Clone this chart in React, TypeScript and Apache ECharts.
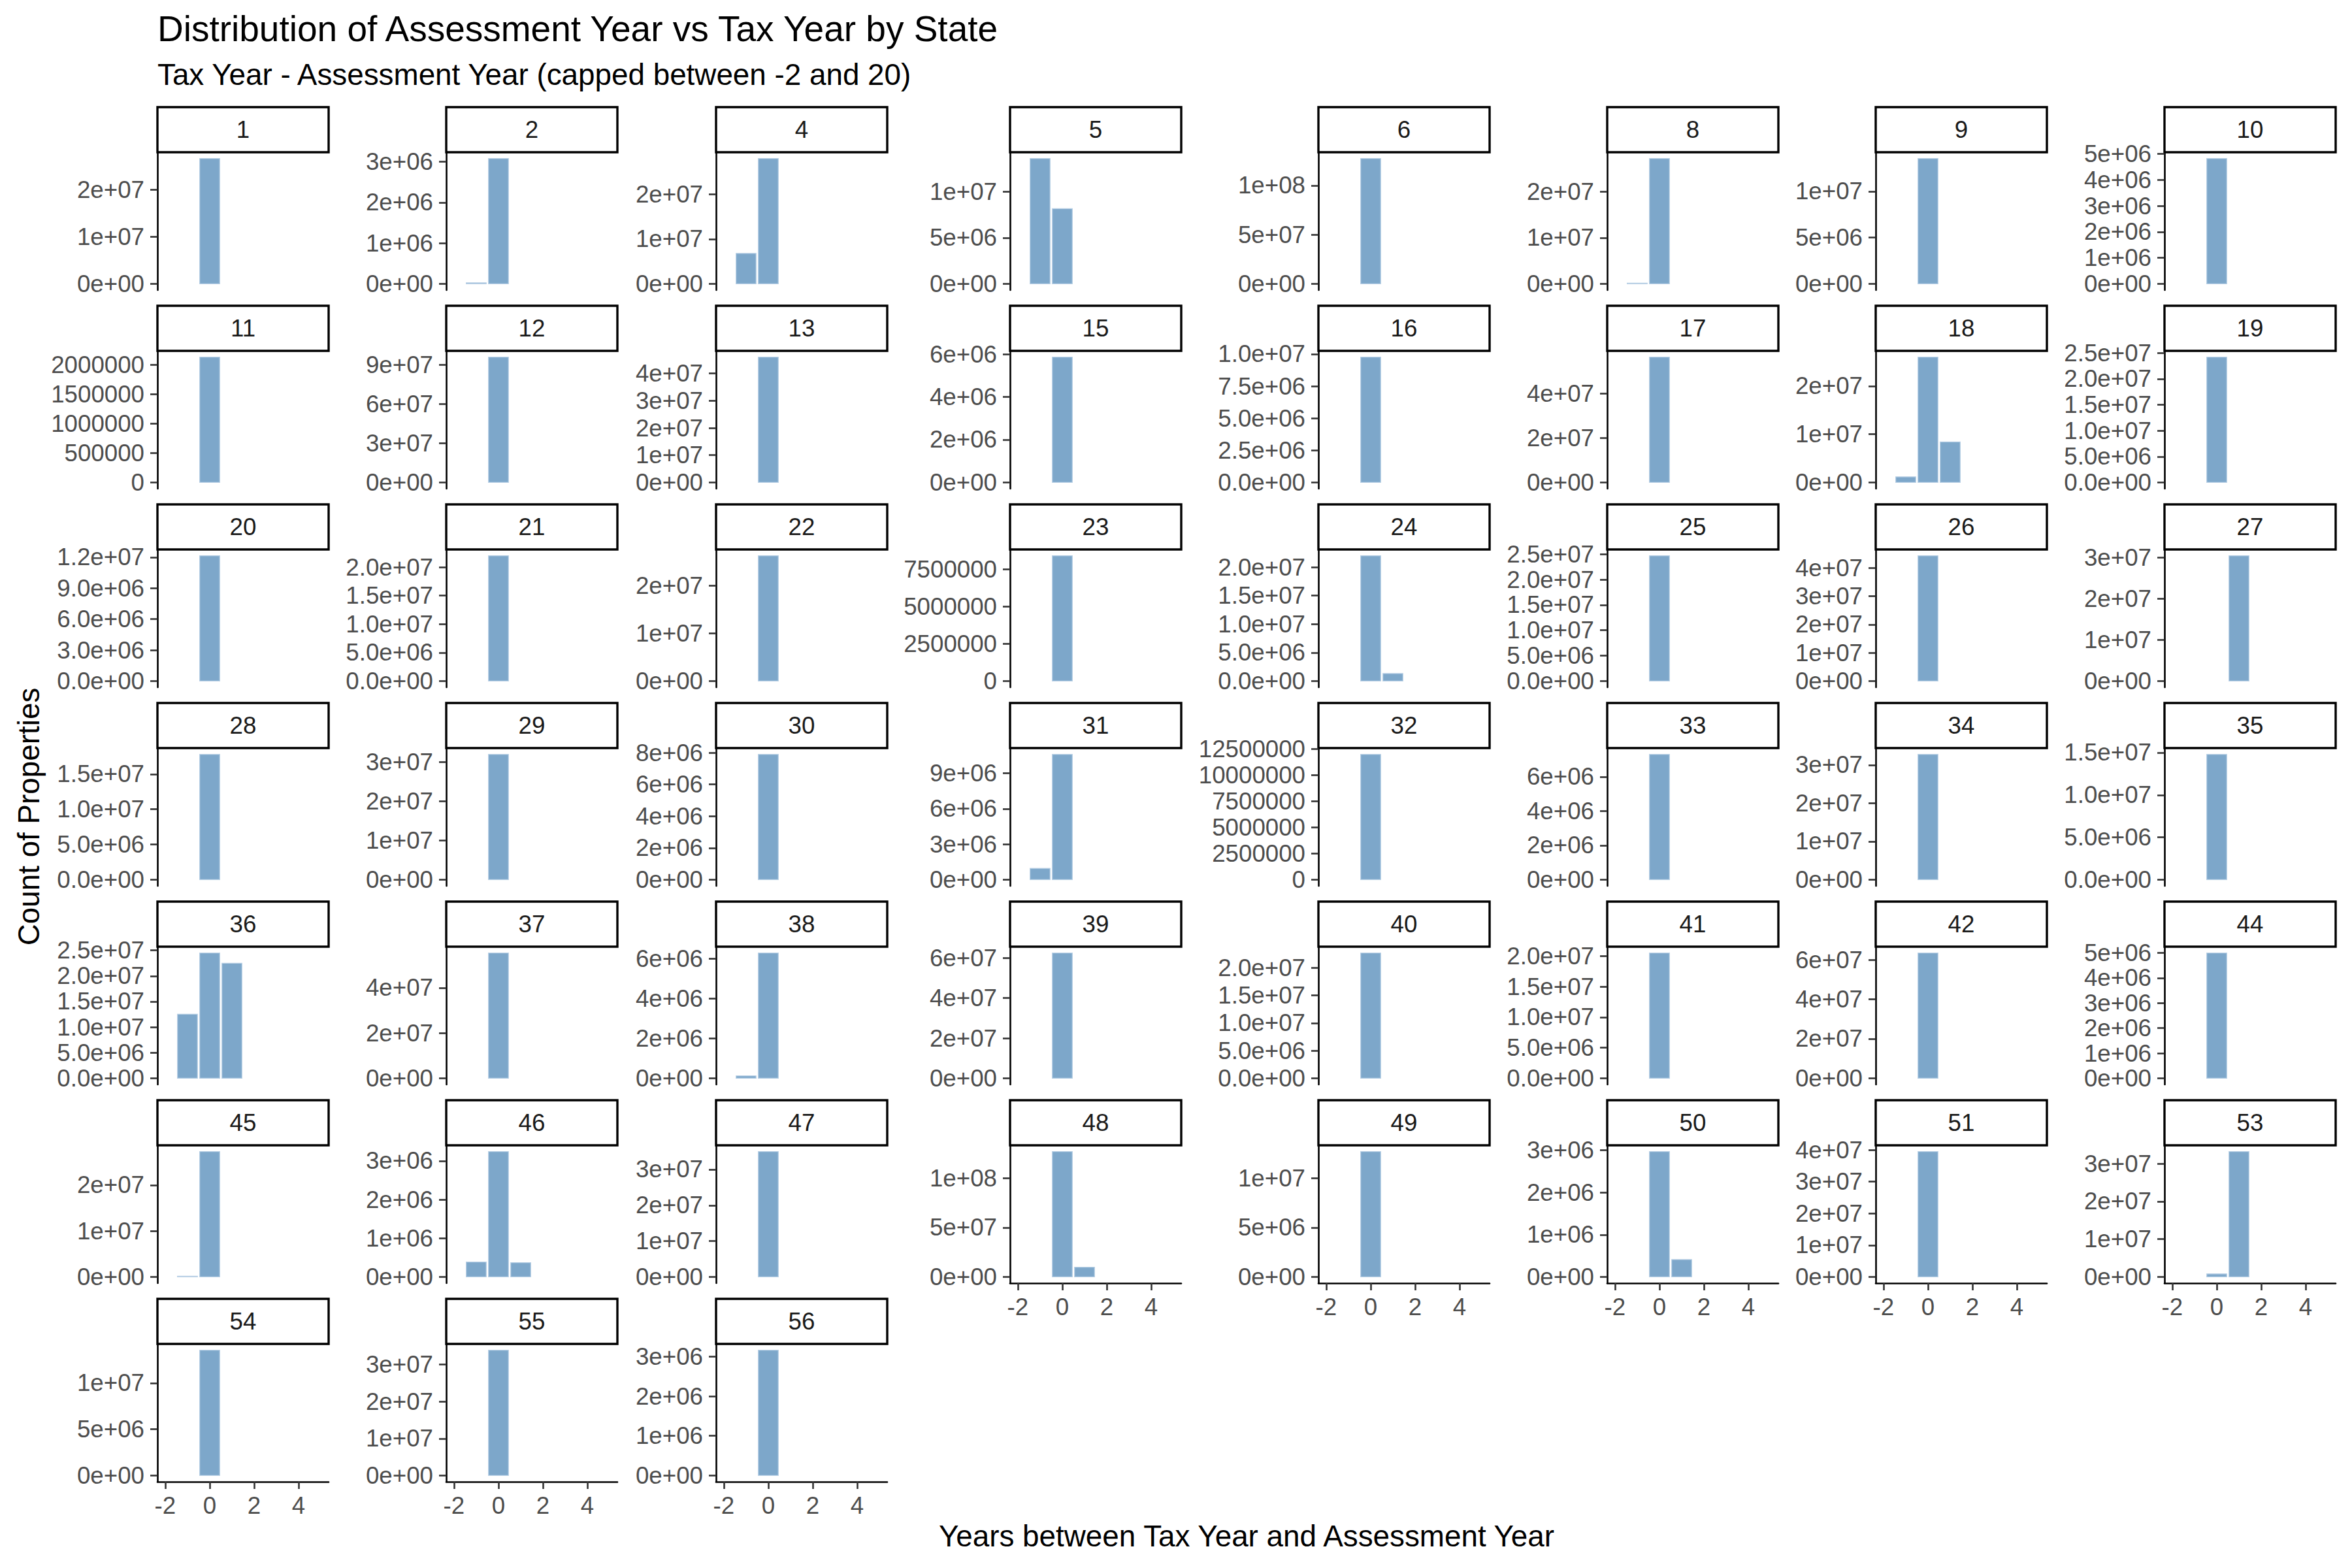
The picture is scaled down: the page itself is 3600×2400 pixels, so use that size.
import React, { useEffect, useRef } from "react";
import * as echarts from "echarts";

// ---------------- data ----------------
const STATES = [
  1, 2, 4, 5, 6, 8, 9, 10,
  11, 12, 13, 15, 16, 17, 18, 19,
  20, 21, 22, 23, 24, 25, 26, 27,
  28, 29, 30, 31, 32, 33, 34, 35,
  36, 37, 38, 39, 40, 41, 42, 44,
  45, 46, 47, 48, 49, 50, 51, 53,
  54, 55, 56,
];

// count of properties where (tax year - assessment year) = -1
const COUNT_DIFF_M1 = [
  0, 25000, 6800000, 13600000, 0, 150000, 0, 0,
  0, 0, 0, 0, 0, 0, 1160000, 0,
  0, 0, 0, 0, 0, 0, 0, 0,
  0, 0, 0, 950000, 0, 0, 0, 0,
  12540000, 0, 120000, 0, 0, 0, 0, 0,
  150000, 384000, 0, 0, 0, 0, 0, 0,
  0, 0, 0,
];

// ... = 0
const COUNT_DIFF_0 = [
  26600000, 3080000, 28000000, 8150000, 127500000, 27200000, 13550000, 4820000,
  2130000, 95800000, 46000000, 5860000, 9760000, 56500000, 26000000, 24200000,
  12150000, 22000000, 26300000, 8400000, 22000000, 24700000, 44300000, 0,
  17800000, 31900000, 7900000, 10600000, 11970000, 7300000, 32800000, 14800000,
  24500000, 55400000, 6300000, 62500000, 22700000, 20500000, 63500000, 5000000,
  27300000, 3240000, 35000000, 127000000, 12700000, 2970000, 39500000, 800000,
  13550000, 33900000, 3160000,
];

// ... = 1
const COUNT_DIFF_P1 = [
  0, 0, 0, 0, 0, 0, 0, 0,
  0, 0, 0, 0, 0, 0, 8400000, 0,
  0, 0, 0, 0, 1330000, 0, 0, 30400000,
  0, 0, 0, 0, 0, 0, 0, 0,
  22500000, 0, 0, 0, 0, 0, 0, 0,
  0, 367000, 0, 9800000, 0, 410000, 0, 33200000,
  0, 0, 0,
];

// spacing of the y-axis breaks in each panel
const Y_BREAK_STEP = [
  1e7, 1e6, 1e7, 5e6, 5e7, 1e7, 5e6, 1e6,
  5e5, 3e7, 1e7, 2e6, 2.5e6, 2e7, 1e7, 5e6,
  3e6, 5e6, 1e7, 2.5e6, 5e6, 5e6, 1e7, 1e7,
  5e6, 1e7, 2e6, 3e6, 2.5e6, 2e6, 1e7, 5e6,
  5e6, 2e7, 2e6, 2e7, 5e6, 5e6, 2e7, 1e6,
  1e7, 1e6, 1e7, 5e7, 5e6, 1e6, 1e7, 1e7,
  5e6, 1e7, 1e6,
];

const X_TICKS = [-2, 0, 2, 4];
const X_LIMITS = [-2, 5];
const BAR_X = [-1, 0, 1];

const TITLE = "Distribution of Assessment Year vs Tax Year by State";
const SUBTITLE = "Tax Year - Assessment Year (capped between -2 and 20)";
const X_TITLE = "Years between Tax Year and Assessment Year";
const Y_TITLE = "Count of Properties";

// ---------------- layout ----------------
const FONT = "Liberation Sans";
const COL_LEFT = [241, 683, 1096, 1546, 2018, 2460, 2871, 3313];
const PANEL_W = 262;
const ROW0_STRIP_TOP = 164;
const ROW_PITCH = 304;
const STRIP_H = 69;
const PANEL_H = 211;
const NCOL = 8;

// R-like common formatting of a vector of numbers
function minSig(v: number): number {
  if (v === 0) return 1;
  const a = Math.abs(v);
  const e = Math.floor(Math.log10(a) + 1e-12);
  const m = a / Math.pow(10, e);
  for (let d = 1; d <= 7; d++) {
    const f = Math.pow(10, d - 1);
    if (Math.abs(Math.round(m * f) / f - m) < 1e-8) return d;
  }
  return 7;
}
function formatBreaks(vals: number[]): string[] {
  const fixed = vals.map((v) => String(Math.round(v)));
  const fixedW = Math.max(...fixed.map((s) => s.length));
  const nsig = Math.max(...vals.map(minSig));
  const sciW = (nsig > 1 ? nsig + 1 : 1) + 4;
  if (fixedW <= sciW) return fixed;
  return vals.map((v) => {
    if (v === 0) return (0).toFixed(nsig - 1) + "e+00";
    let e = Math.floor(Math.log10(v) + 1e-12);
    let ms = (v / Math.pow(10, e)).toFixed(nsig - 1);
    if (parseFloat(ms) >= 10) {
      e += 1;
      ms = (v / Math.pow(10, e)).toFixed(nsig - 1);
    }
    return ms + "e" + (e < 0 ? "-" : "+") + String(Math.abs(e)).padStart(2, "0");
  });
}

function buildOption() {
  const grids: any[] = [];
  const xAxes: any[] = [];
  const yAxes: any[] = [];
  const series: any[] = [];
  const graphics: any[] = [];
  const n = STATES.length;
  const lastRow = Math.floor((n - 1) / NCOL);
  const xPad = (X_LIMITS[1] - X_LIMITS[0]) * 0.05;

  const labelStyle = { color: "#4D4D4D", fontSize: 36.7, fontFamily: FONT };

  for (let i = 0; i < n; i++) {
    const row = Math.floor(i / NCOL);
    const col = i % NCOL;
    const left = COL_LEFT[col];
    const stripTop = ROW0_STRIP_TOP + row * ROW_PITCH;
    const top = stripTop + STRIP_H;
    const isBottom = row === lastRow || (row === lastRow - 1 && i + NCOL >= n);

    const vals = [COUNT_DIFF_M1[i], COUNT_DIFF_0[i], COUNT_DIFF_P1[i]];
    const vmax = Math.max(...vals);
    const step = Y_BREAK_STEP[i];
    const breaks: number[] = [];
    for (let k = 0; k * step <= vmax * 1.05 * (1 + 1e-9); k++) breaks.push(k * step);
    const labels = formatBreaks(breaks);

    grids.push({ left, top, width: PANEL_W, height: PANEL_H, containLabel: false });

    xAxes.push({
      gridIndex: i,
      type: "value",
      min: X_LIMITS[0] - xPad,
      max: X_LIMITS[1] + xPad,
      splitLine: { show: false },
      axisLine: { show: isBottom, onZero: false, lineStyle: { color: "#000", width: 2.6 } },
      axisTick: {
        show: isBottom,
        customValues: X_TICKS,
        length: 11,
        lineStyle: { color: "#333333", width: 2.6 },
      },
      axisLabel: {
        show: isBottom,
        customValues: X_TICKS,
        margin: 18,
        ...labelStyle,
        formatter: (v: number) => String(v),
      },
    });

    yAxes.push({
      gridIndex: i,
      type: "value",
      min: -0.05 * vmax,
      max: 1.05 * vmax,
      splitLine: { show: false },
      axisLine: { show: true, onZero: false, lineStyle: { color: "#000", width: 2.6 } },
      axisTick: {
        show: true,
        customValues: breaks,
        length: 11,
        lineStyle: { color: "#333333", width: 2.6 },
      },
      axisLabel: {
        show: true,
        customValues: breaks,
        margin: 20,
        ...labelStyle,
        formatter: (v: number) => {
          let best = 0;
          for (let k = 1; k < breaks.length; k++)
            if (Math.abs(breaks[k] - v) < Math.abs(breaks[best] - v)) best = k;
          return labels[best];
        },
      },
    });

    const data = BAR_X.map((x, k) => [x, vals[k]]).filter((d) => d[1] > 0);
    series.push({
      type: "custom",
      xAxisIndex: i,
      yAxisIndex: i,
      data,
      encode: { x: 0, y: 1 },
      renderItem: (params: any, api: any) => {
        const x = api.value(0);
        const y = api.value(1);
        const p0 = api.coord([x - 0.45, y]);
        const p1 = api.coord([x + 0.45, 0]);
        return {
          type: "rect",
          shape: { x: p0[0], y: p0[1], width: p1[0] - p0[0], height: Math.max(p1[1] - p0[1], 0) },
          style: { fill: "rgba(70,130,180,0.7)", stroke: "#B9D0E5", lineWidth: 1.2 },
        };
      },
    });

    // strip
    graphics.push({
      type: "rect",
      shape: { x: left, y: stripTop, width: PANEL_W, height: STRIP_H },
      style: { fill: "#fff", stroke: "#000", lineWidth: 3.4 },
    });
    graphics.push({
      type: "text",
      x: left + PANEL_W / 2,
      y: stripTop + STRIP_H / 2,
      style: {
        text: String(STATES[i]),
        fontSize: 36.7,
        fontFamily: FONT,
        fill: "#1A1A1A",
        align: "center",
        verticalAlign: "middle",
      },
    });
  }

  const panelsLeft = COL_LEFT[0];
  const panelsRight = COL_LEFT[NCOL - 1] + PANEL_W;

  graphics.push({
    type: "text",
    x: panelsLeft,
    y: 44,
    style: { text: TITLE, fontSize: 55, fontFamily: FONT, fill: "#000", align: "left", verticalAlign: "middle" },
  });
  graphics.push({
    type: "text",
    x: panelsLeft,
    y: 114,
    style: { text: SUBTITLE, fontSize: 45.8, fontFamily: FONT, fill: "#000", align: "left", verticalAlign: "middle" },
  });
  graphics.push({
    type: "text",
    x: (panelsLeft + panelsRight) / 2,
    y: 2351,
    style: { text: X_TITLE, fontSize: 45.8, fontFamily: FONT, fill: "#000", align: "center", verticalAlign: "middle" },
  });
  graphics.push({
    type: "text",
    x: 44,
    y: 1250,
    rotation: Math.PI / 2,
    style: { text: Y_TITLE, fontSize: 45.8, fontFamily: FONT, fill: "#000", align: "center", verticalAlign: "middle" },
  });

  return {
    animation: false,
    backgroundColor: "#fff",
    grid: grids,
    xAxis: xAxes,
    yAxis: yAxes,
    series,
    graphic: { elements: graphics },
  };
}

export default function App() {
  const ref = useRef<HTMLDivElement>(null);
  useEffect(() => {
    document.body.style.margin = "0";
    if (!ref.current) return;
    const chart = echarts.init(ref.current, undefined, { renderer: "svg", width: 3600, height: 2400 });
    chart.setOption(buildOption() as any);
    return () => chart.dispose();
  }, []);
  return <div ref={ref} style={{ width: 3600, height: 2400, background: "#fff" }} />;
}
